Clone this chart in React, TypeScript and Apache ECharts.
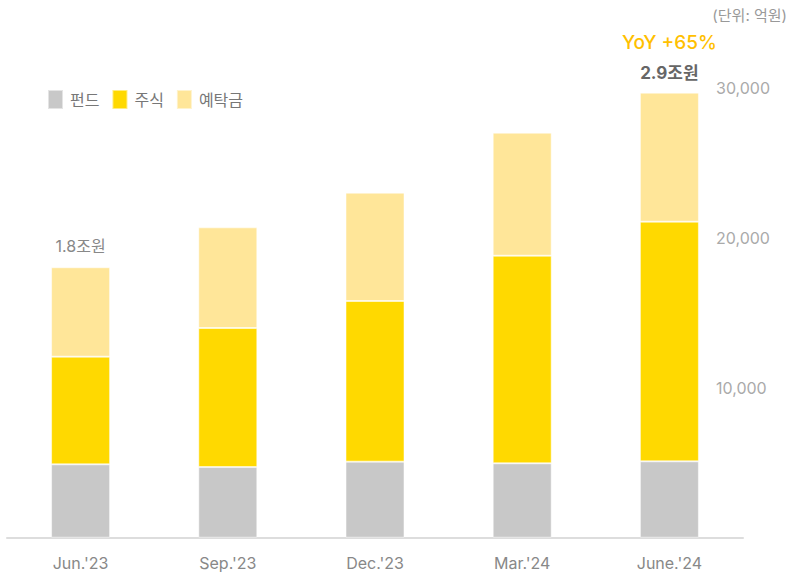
import React, { useEffect, useRef } from "react";
import * as echarts from "echarts";

const categories = ["Jun.'23", "Sep.'23", "Dec.'23", "Mar.'24", "June.'24"];
const fund = [4890, 4710, 5070, 4960, 5090];
const stock = [7180, 9270, 10710, 13840, 15980];
const deposit = [5960, 6710, 7220, 8200, 8600];
const seriesNames = ["펀드", "주식", "예탁금"];
const firstLabel = "1.8조원";
const lastLabel = "2.9조원";
const yoyLabel = "YoY +65%";
const unitLabel = "(단위: 억원)";

const FONT = "Inter, 'Noto Sans CJK KR', sans-serif";

export default function App() {
  const ref = useRef<HTMLDivElement>(null);
  useEffect(() => {
    document.body.style.margin = "0";
    document.body.style.overflow = "hidden";
    if (!ref.current) return;
    const chart = echarts.init(ref.current, undefined, { renderer: "svg" });
    const border = { borderColor: "rgba(255,255,255,0.5)", borderWidth: 1 };
    const depositData = deposit.map((v, i) => {
      if (i === 0) {
        return {
          value: v,
          label: {
            show: true,
            position: "top",
            distance: 13,
            formatter: firstLabel,
            color: "#888",
            fontSize: 16,
            fontFamily: FONT,
          },
        };
      }
      if (i === deposit.length - 1) {
        return {
          value: v,
          label: {
            show: true,
            position: "top",
            distance: 9,
            formatter: `{y|${yoyLabel}}\n{b|${lastLabel}}`,
            rich: {
              y: { color: "#FFC000", fontSize: 19, fontWeight: 500, fontFamily: FONT, lineHeight: 38 },
              b: { color: "#666", fontSize: 17, fontWeight: "bold", fontFamily: FONT, lineHeight: 22 },
            },
          },
        };
      }
      return v;
    });
    chart.setOption({
      animation: false,
      textStyle: { fontFamily: FONT },
      legend: {
        left: 47,
        top: 89,
        padding: 0,
        itemWidth: 15,
        itemHeight: 19,
        itemGap: 12,
        icon: "rect",
        textStyle: { color: "#777", fontSize: 16, fontFamily: FONT, padding: [0, 0, 0, 2] },
        data: seriesNames,
      },
      graphic: [
        {
          type: "text",
          right: 3,
          top: 8,
          style: { text: unitLabel, fill: "#999", fontSize: 15, fontFamily: FONT },
        },
      ],
      grid: { left: 7, right: 47, top: 87.7, bottom: 34.3, containLabel: false },
      xAxis: {
        type: "category",
        data: categories,
        axisLine: { lineStyle: { color: "#ddd", width: 2 } },
        axisTick: { show: false },
        axisLabel: { color: "#888", fontSize: 16, fontFamily: FONT, margin: 17 },
      },
      yAxis: {
        type: "value",
        position: "right",
        offset: -35,
        min: 0,
        max: 30000,
        interval: 10000,
        splitLine: { show: false },
        axisLine: { show: false },
        axisTick: { show: false },
        axisLabel: {
          color: "#aaa",
          fontSize: 16,
          fontFamily: FONT,
          margin: 8,
          showMinLabel: false,
          formatter: (v: number) => (v === 0 ? "" : v.toLocaleString("en-US")),
        },
      },
      series: [
        { name: seriesNames[0], type: "bar", stack: "t", barWidth: 59, data: fund, itemStyle: { color: "#C8C8C8", ...border } },
        { name: seriesNames[1], type: "bar", stack: "t", barWidth: 59, data: stock, itemStyle: { color: "#FFD900", ...border } },
        { name: seriesNames[2], type: "bar", stack: "t", barWidth: 59, data: depositData, itemStyle: { color: "#FFE699", ...border } },
      ],
    });
    return () => chart.dispose();
  }, []);
  return <div ref={ref} style={{ width: 790, height: 572 }} />;
}
